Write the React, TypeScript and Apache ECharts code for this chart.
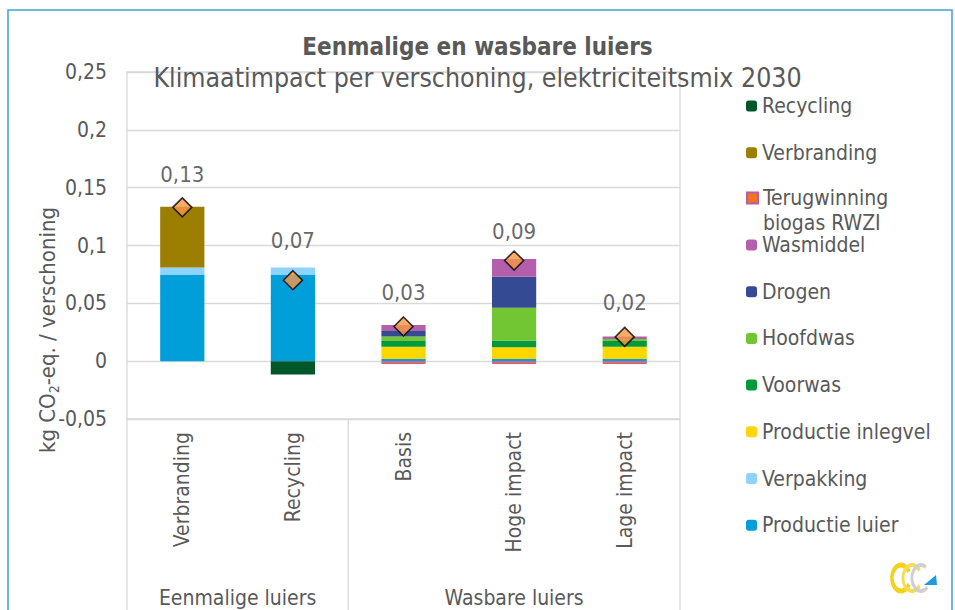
import React, { useEffect, useRef } from "react";
import * as echarts from "echarts";

const categories = ["Verbranding", "Recycling", "Basis", "Hoge impact", "Lage impact"];
const groups = ["Eenmalige luiers", "Wasbare luiers"];
const groupSizes = [2, 3];

const productieLuier = [0.075, 0.075, 0.0018, 0.0018, 0.0018];
const verpakking = [0.006, 0.006, null, null, null];
const productieInlegvel = [null, null, 0.0106, 0.0103, 0.0106];
const voorwas = [null, null, 0.005, 0.0057, 0.005];
const hoofdwas = [null, null, 0.004, 0.0284, 0.0018];
const drogen = [null, null, 0.0047, 0.0267, null];
const wasmiddel = [null, null, 0.0052, 0.0155, 0.0022];
const terugwinning = [null, null, -0.0025, -0.0025, -0.0025];
const verbranding = [0.0526, null, null, null, null];
const recycling = [null, -0.0115, null, null, null];
const totals = [0.133, 0.07, 0.03, 0.087, 0.021];

const yMin = -0.05;
const yMax = 0.25;
const yInterval = 0.05;

const FONT = "'DejaVu Sans Condensed', 'DejaVu Sans', sans-serif";
const GRAY = "#595959";

const fmt = (v: number) => {
  const s = String(Math.round(v * 1000) / 1000);
  return s.replace(".", ",");
};

export default function App() {
  const ref = useRef<HTMLDivElement>(null);

  useEffect(() => {
    if (!ref.current) return;
    const chart = echarts.init(ref.current, undefined, { renderer: "svg" });

    const stackSeries = [
      { name: "Productie luier", data: productieLuier, color: "#009FDA" },
      { name: "Verpakking", data: verpakking, color: "#8FD3FB" },
      { name: "Productie inlegvel", data: productieInlegvel, color: "#FFD700" },
      { name: "Voorwas", data: voorwas, color: "#009A3D" },
      { name: "Hoofdwas", data: hoofdwas, color: "#72C633" },
      { name: "Drogen", data: drogen, color: "#344B94" },
      { name: "Wasmiddel", data: wasmiddel, color: "#B35FAB" },
      { name: "Terugwinning biogas RWZI", data: terugwinning, color: "#F47321", border: "#B35FAB" },
      { name: "Verbranding", data: verbranding, color: "#9C7F00" },
      { name: "Recycling", data: recycling, color: "#00572A" },
    ];

    const labelDistance = [12, 18, 13, 8, 13];

    const series: any[] = stackSeries.map((s) => ({
      name: s.name,
      type: "bar",
      stack: "total",
      barWidth: "40%",
      data: s.data,
      itemStyle: {
        color: s.color,
        borderColor: s.border || undefined,
        borderWidth: s.border ? 1 : 0,
      },
      emphasis: { disabled: true },
    }));

    series.push({
      name: "Totaal",
      type: "scatter",
      symbol: "diamond",
      symbolSize: 19,
      z: 5,
      data: totals.map((v, i) => ({
        value: v,
        label: { distance: labelDistance[i] },
      })),
      itemStyle: { color: "#F79646", borderColor: "#000000", borderWidth: 1.6 },
      label: {
        show: true,
        position: "top",
        fontFamily: FONT,
        fontSize: 22,
        color: "#404040",
        formatter: (p: any) => p.value.toFixed(2).replace(".", ","),
      },
    });

    const legendText = { fontFamily: FONT, fontSize: 21, color: GRAY, lineHeight: 25 };
    const legendCommon = {
      orient: "vertical",
      left: 741,
      itemWidth: 11,
      itemHeight: 11,
      itemGap: 21.7,
      selectedMode: false,
      textStyle: legendText,
    };

    const option: any = {
      animation: false,
      backgroundColor: "#ffffff",
      title: [
        {
          text: "Eenmalige en wasbare luiers",
          left: "center",
          top: 30,
          textStyle: { fontFamily: FONT, fontSize: 24, fontWeight: "bold", color: GRAY },
        },
        {
          text: "Klimaatimpact per verschoning, elektriciteitsmix 2030",
          left: "center",
          top: 58.5,
          textStyle: { fontFamily: FONT, fontSize: 26.5, fontWeight: "normal", color: GRAY },
        },
      ],
      legend: [
        {
          ...legendCommon,
          top: 88.5,
          data: ["Recycling", "Verbranding"],
        },
        {
          ...legendCommon,
          top: 180.5,
          itemHeight: 36,
          data: [
            {
              name: "Terugwinning biogas RWZI",
              icon: "path://M0,0L11,0L11,11L0,11Z M0,36L0.01,36",
            },
          ],
          formatter: () => "Terugwinning\nbiogas RWZI",
        },
        {
          ...legendCommon,
          top: 227.5,
          data: [
            "Wasmiddel",
            "Drogen",
            "Hoofdwas",
            "Voorwas",
            "Productie inlegvel",
            "Verpakking",
            "Productie luier",
          ],
        },
      ],
      grid: {
        left: 127,
        right: 275,
        top: 72,
        bottom: 191,
        show: true,
        borderColor: "#D9D9D9",
        borderWidth: 1.3,
        backgroundColor: "transparent",
      },
      xAxis: {
        type: "category",
        data: categories,
        axisLine: { show: false },
        axisTick: { show: false },
        axisLabel: {
          rotate: 90,
          margin: 13,
          fontFamily: FONT,
          fontSize: 21,
          color: GRAY,
          interval: 0,
        },
      },
      yAxis: {
        type: "value",
        min: yMin,
        max: yMax,
        interval: yInterval,
        axisLine: { show: false },
        axisTick: { show: false },
        splitLine: { lineStyle: { color: "#D9D9D9", width: 1.3 } },
        axisLabel: {
          margin: 20,
          fontFamily: FONT,
          fontSize: 21,
          color: GRAY,
          formatter: (v: number) => fmt(v),
        },
      },
      series,
    };

    chart.setOption(option);

    // Multi-level category axis decorations, computed from the axis scale
    const px = (i: number) => chart.convertToPixel({ xAxisIndex: 0 }, i) as number;
    const band = px(1) - px(0);
    const gridBottom = chart.convertToPixel({ yAxisIndex: 0 }, yMin) as number;
    const edges: number[] = [px(0) - band / 2];
    let acc = 0;
    groupSizes.forEach((n) => {
      acc += n;
      edges.push(px(acc - 1) + band / 2);
    });

    const lineStyle = { stroke: "#D9D9D9", lineWidth: 1.3 };
    const graphics: any[] = [];
    edges.forEach((x) => {
      graphics.push({
        type: "line",
        shape: { x1: x, y1: gridBottom, x2: x, y2: 612 },
        style: lineStyle,
        silent: true,
      });
    });
    groups.forEach((g, gi) => {
      graphics.push({
        type: "text",
        x: (edges[gi] + edges[gi + 1]) / 2,
        y: 598,
        style: {
          text: g,
          fontFamily: FONT,
          fontSize: 21,
          fill: GRAY,
          align: "center",
          verticalAlign: "middle",
        },
      });
    });

    // y-axis title with subscript
    graphics.push({
      type: "text",
      x: 47,
      y: 330,
      rotation: Math.PI / 2,
      style: {
        text: "{a|kg CO}{s|2}{a|-eq. / verschoning}",
        align: "center",
        verticalAlign: "middle",
        rich: {
          a: { fontFamily: FONT, fontSize: 22, fill: GRAY, lineHeight: 28 },
          s: { fontFamily: FONT, fontSize: 14, fill: GRAY, lineHeight: 14, verticalAlign: "bottom" },
        },
      },
    });

    // outer chart border
    graphics.push({
      type: "rect",
      shape: { x: 8, y: 10, width: 944, height: 660 },
      style: { fill: "none", stroke: "#3FA3DC", lineWidth: 1.5 },
      silent: true,
    });

    // logo
    graphics.push({
      type: "group",
      children: [
        {
          type: "arc",
          x: 901,
          y: 578,
          scaleX: 0.7,
          shape: { cx: 0, cy: 0, r: 13, startAngle: 0.5, endAngle: Math.PI * 2 - 0.5 },
          style: { stroke: "#F2D21B", lineWidth: 5, fill: "none" },
        },
        {
          type: "arc",
          x: 912,
          y: 578,
          scaleX: 0.7,
          shape: { cx: 0, cy: 0, r: 13, startAngle: 0.6, endAngle: Math.PI * 2 - 0.6 },
          style: { stroke: "#F5DE55", lineWidth: 4, fill: "none" },
        },
        {
          type: "arc",
          x: 921,
          y: 578,
          scaleX: 0.7,
          shape: { cx: 0, cy: 0, r: 13, startAngle: 0.8, endAngle: Math.PI * 2 - 1.0 },
          style: { stroke: "#CFCFCF", lineWidth: 4, fill: "none" },
        },
        {
          type: "polygon",
          shape: { points: [[924, 585], [937, 585], [936, 575]] },
          style: { fill: "#1E9BE0" },
        },
      ],
    });

    chart.setOption({ graphic: graphics });

    return () => chart.dispose();
  }, []);

  return (
    <div
      ref={ref}
      style={{ position: "absolute", left: 0, top: 0, width: 955, height: 610 }}
    />
  );
}
